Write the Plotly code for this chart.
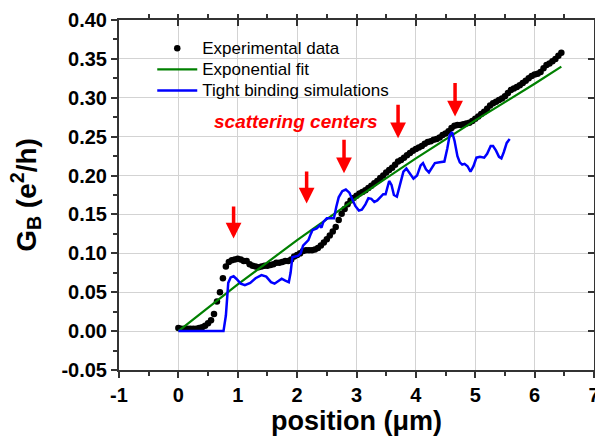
import plotly.graph_objects as go

# Experimental data (position in um, G_B in e^2/h)
exp_x = [0.00,0.05,0.10,0.15,0.20,0.25,0.30,0.35,0.40,0.45,0.50,0.55,0.60,0.65,0.70,0.75,0.80,0.85,0.90,0.95,
         1.00,1.05,1.10,1.15,1.20,1.25,1.30,1.35,1.40,1.45,1.50,1.55,1.60,1.65,1.70,1.75,1.80,1.85,1.90,1.95,
         2.00,2.05,2.10,2.15,2.20,2.25,2.30,2.35,2.40,2.45,2.50,2.55,2.60,2.65,2.70,2.75,2.80,2.85,2.90,2.95,
         3.00,3.05,3.10,3.15,3.20,3.25,3.30,3.35,3.40,3.45,3.50,3.55,3.60,3.65,3.70,3.75,3.80,3.85,3.90,3.95,
         4.00,4.05,4.10,4.15,4.20,4.25,4.30,4.35,4.40,4.45,4.50,4.55,4.60,4.65,4.70,4.75,4.80,4.85,4.90,4.95,
         5.00,5.05,5.10,5.15,5.20,5.25,5.30,5.35,5.40,5.45,5.50,5.55,5.60,5.65,5.70,5.75,5.80,5.85,5.90,5.95,
         6.00,6.05,6.10,6.15,6.20,6.25,6.30,6.35,6.40,6.45]
exp_y = [0.004,0.003,0.003,0.003,0.003,0.003,0.003,0.004,0.005,0.007,0.010,0.014,0.022,0.038,0.050,0.068,0.083,0.089,0.091,0.092,
         0.093,0.092,0.090,0.090,0.086,0.084,0.083,0.082,0.083,0.084,0.084,0.085,0.086,0.088,0.088,0.089,0.090,0.090,0.092,0.096,
         0.098,0.100,0.103,0.104,0.104,0.104,0.105,0.107,0.110,0.114,0.118,0.123,0.128,0.134,0.143,0.151,0.157,0.163,0.168,0.171,
         0.174,0.177,0.179,0.181,0.184,0.187,0.190,0.193,0.197,0.200,0.204,0.207,0.210,0.214,0.218,0.220,0.223,0.226,0.229,0.232,
         0.234,0.236,0.238,0.241,0.243,0.244,0.246,0.247,0.249,0.252,0.254,0.257,0.261,0.264,0.265,0.265,0.266,0.267,0.268,0.270,
         0.273,0.276,0.279,0.282,0.286,0.290,0.293,0.295,0.297,0.299,0.302,0.306,0.310,0.312,0.314,0.316,0.319,0.322,0.325,0.328,
         0.330,0.331,0.333,0.338,0.342,0.344,0.347,0.350,0.354,0.358]

# Exponential fit
fit_x = [0.0, 1.0, 2.0, 3.0, 4.0, 5.0, 6.0, 6.45]
fit_y = [0.0, 0.060, 0.117, 0.171, 0.222, 0.271, 0.318, 0.340]

# Tight binding simulations
tb_x = [0.00,0.76,0.80,0.84,0.88,0.93,0.98,1.05,1.12,1.21,1.30,1.40,1.48,1.56,1.62,1.70,1.74,1.80,1.86,1.89,
        1.92,2.02,2.06,2.10,2.15,2.19,2.23,2.26,2.33,2.38,2.41,2.44,2.50,2.62,2.66,2.70,2.76,2.82,2.88,2.93,
        2.98,3.04,3.09,3.15,3.20,3.25,3.30,3.35,3.40,3.45,3.49,3.55,3.59,3.63,3.68,3.74,3.79,3.84,3.90,3.96,
        4.02,4.08,4.12,4.17,4.22,4.27,4.32,4.40,4.48,4.53,4.57,4.61,4.65,4.70,4.74,4.78,4.82,4.87,4.92,4.97,
        5.02,5.08,5.15,5.20,5.26,5.30,5.35,5.40,5.44,5.48,5.53,5.58]
tb_y = [0.000,0.000,0.020,0.062,0.069,0.0705,0.067,0.061,0.059,0.062,0.068,0.072,0.070,0.063,0.061,0.066,0.0675,0.065,0.063,0.075,
        0.095,0.097,0.100,0.110,0.114,0.117,0.125,0.130,0.132,0.136,0.133,0.140,0.145,0.145,0.160,0.172,0.180,0.182,0.178,0.170,
        0.161,0.155,0.156,0.163,0.171,0.170,0.166,0.168,0.172,0.176,0.176,0.193,0.188,0.175,0.173,0.190,0.205,0.209,0.203,0.196,
        0.200,0.213,0.216,0.208,0.204,0.210,0.216,0.217,0.218,0.235,0.252,0.256,0.245,0.225,0.217,0.214,0.215,0.212,0.205,0.212,
        0.223,0.224,0.223,0.228,0.238,0.238,0.232,0.224,0.222,0.230,0.242,0.247]

# Scattering-center arrows: x, tip y, tail y
arrow_x = [0.93, 2.16, 2.79, 3.70, 4.66]
arrow_tip = [0.119, 0.164, 0.203, 0.248, 0.276]
arrow_tail = [0.162, 0.207, 0.248, 0.293, 0.321]

x_ticks = [-1, 0, 1, 2, 3, 4, 5, 6, 7]
y_ticks = [-0.05, 0.00, 0.05, 0.10, 0.15, 0.20, 0.25, 0.30, 0.35, 0.40]

FONT = "Arial, 'Liberation Sans', sans-serif"


def legend_label(s):
    return '<span style="font-size:17px">%s</span>' % s


fig = go.Figure()
fig.add_trace(go.Scatter(x=exp_x, y=exp_y, mode="markers", name=legend_label("Experimental data"),
                         marker=dict(color="black", size=6.5)))
fig.add_trace(go.Scatter(x=fit_x, y=fit_y, mode="lines", name=legend_label("Exponential fit"),
                         line=dict(color="#008000", width=2.2)))
fig.add_trace(go.Scatter(x=tb_x, y=tb_y, mode="lines", name=legend_label("Tight binding simulations"),
                         line=dict(color="#0000FF", width=2.5)))
# invisible trace for the mirrored (top/right) axes
fig.add_trace(go.Scatter(x=[0], y=[0], xaxis="x2", yaxis="y2", mode="markers",
                         marker=dict(opacity=0), showlegend=False, hoverinfo="skip"))

for xa, tip, tail in zip(arrow_x, arrow_tip, arrow_tail):
    fig.add_annotation(x=xa, y=tip, ax=xa, ay=tail, axref="x", ayref="y", xref="x", yref="y",
                       text="", showarrow=True, arrowhead=2, arrowsize=0.9, arrowwidth=3.5,
                       arrowcolor="#FF0000", standoff=0)

fig.add_annotation(x=1.98, y=0.270, xref="x", yref="y", text="<b><i>scattering centers</i></b>",
                   showarrow=False, font=dict(family=FONT, size=19, color="#FF0000"))

axis_common = dict(showline=True, linecolor="#333333", linewidth=2, zeroline=False, automargin=False)

fig.update_layout(
    width=595, height=437,
    margin=dict(l=119, r=1, t=20, b=67),
    paper_bgcolor="white", plot_bgcolor="white",
    font=dict(family=FONT, color="black"),
    showlegend=True,
    legend=dict(x=0.07, y=0.964, xanchor="left", yanchor="top", bgcolor="rgba(0,0,0,0)",
                font=dict(family=FONT, size=14, color="black"), tracegroupgap=0,
                itemwidth=40),
    xaxis=dict(range=[-1, 7], tickvals=x_ticks, ticktext=[str(v) for v in x_ticks],
               ticks="outside", ticklen=6, tickwidth=2, tickcolor="#333333",
               minor=dict(dtick=0.5, ticklen=4, tickwidth=1.5, tickcolor="#333333", showgrid=False),
               showgrid=True, gridcolor="#d3d3d3", gridwidth=1, ticklabeloverflow="allow",
               tickfont=dict(family=FONT, size=20, color="black", weight="bold"),
               title=dict(text="<b>position (μm)</b>", font=dict(family=FONT, size=27), standoff=6),
               **axis_common),
    yaxis=dict(range=[-0.05, 0.40], tickvals=y_ticks, ticktext=["%.2f" % v for v in y_ticks],
               ticks="outside", ticklen=6, tickwidth=2, tickcolor="#333333",
               minor=dict(dtick=0.025, tick0=0, ticklen=4, tickwidth=1.5, tickcolor="#333333", showgrid=False),
               showgrid=True, gridcolor="#d3d3d3", gridwidth=1,
               tickfont=dict(family=FONT, size=20, color="black", weight="bold"),
               title=dict(text="<b>G<sub>B</sub> (e<sup>2</sup>/h)</b>", font=dict(family=FONT, size=28), standoff=17),
               **axis_common),
    xaxis2=dict(range=[-1, 7], overlaying="x", side="top", tickvals=x_ticks, showticklabels=False,
                ticks="inside", ticklen=6, tickwidth=2, tickcolor="#333333",
                minor=dict(dtick=0.5, ticklen=4, tickwidth=1.5, tickcolor="#333333", showgrid=False),
                showgrid=False, **axis_common),
    yaxis2=dict(range=[-0.05, 0.40], overlaying="y", side="right", tickvals=y_ticks, showticklabels=False,
                ticks="inside", ticklen=6, tickwidth=2, tickcolor="#333333",
                minor=dict(dtick=0.025, tick0=0, ticklen=4, tickwidth=1.5, tickcolor="#333333", showgrid=False),
                showgrid=False, **axis_common),
)

fig.write_html("out.html")
